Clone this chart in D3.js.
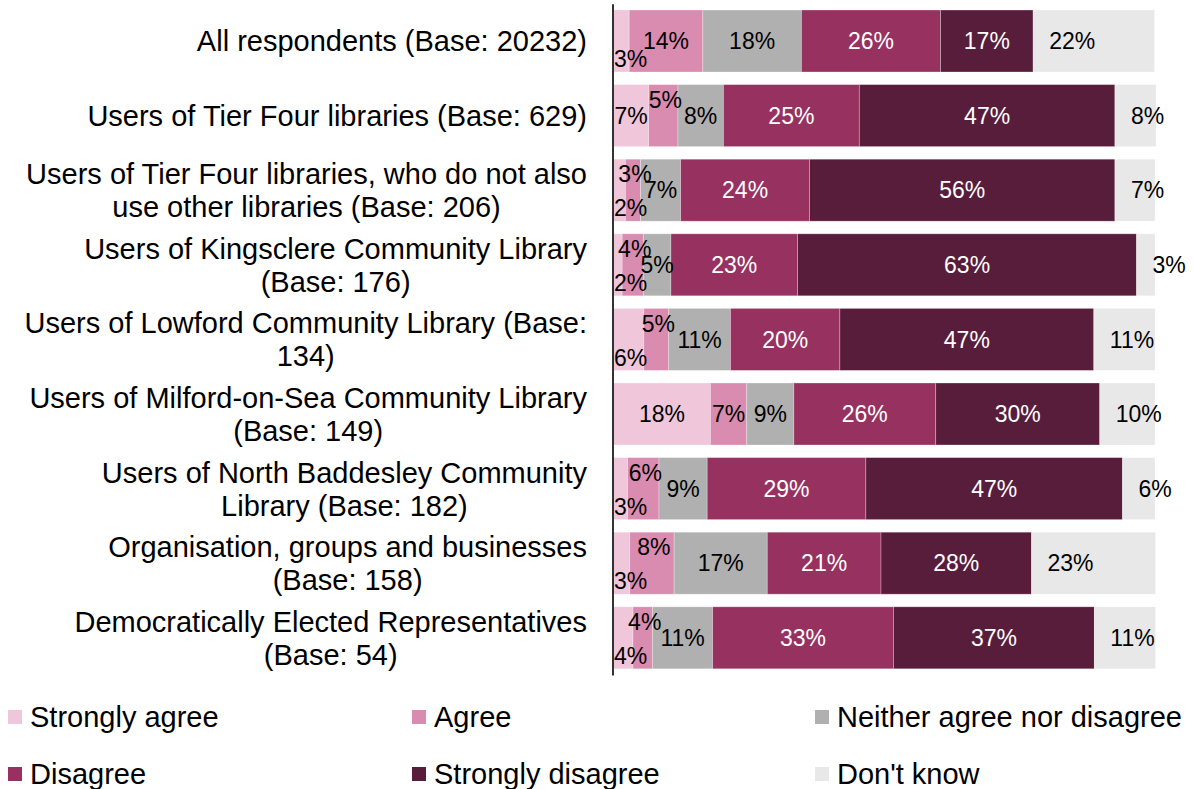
<!DOCTYPE html>
<html>
<head>
<meta charset="utf-8">
<script src="https://cdn.jsdelivr.net/npm/d3@7"></script>
<style>
  html, body { margin: 0; padding: 0; background: #fff; }
  svg { display: block; font-family: "Liberation Sans", Arial, sans-serif; }
</style>
</head>
<body>
<svg id="chart" width="1193" height="789"></svg>
<script>
// ---- data ----
const categories = [
  "All respondents (Base: 20232)",
  "Users of Tier Four libraries (Base: 629)",
  "Users of Tier Four libraries, who do not also use other libraries (Base: 206)",
  "Users of Kingsclere Community Library (Base: 176)",
  "Users of Lowford Community Library (Base: 134)",
  "Users of Milford-on-Sea Community Library (Base: 149)",
  "Users of North Baddesley Community Library (Base: 182)",
  "Organisation, groups and businesses (Base: 158)",
  "Democratically Elected Representatives (Base: 54)"
];
const categoryLines = [
  ["All respondents (Base: 20232)"],
  ["Users of Tier Four libraries (Base: 629)"],
  ["Users of Tier Four libraries, who do not also", "use other libraries (Base: 206)"],
  ["Users of Kingsclere Community Library", "(Base: 176)"],
  ["Users of Lowford Community Library (Base:", "134)"],
  ["Users of Milford-on-Sea Community Library", "(Base: 149)"],
  ["Users of North Baddesley Community", "Library (Base: 182)"],
  ["Organisation, groups and businesses", "(Base: 158)"],
  ["Democratically Elected Representatives", "(Base: 54)"]
];
const seriesNames = ["Strongly agree", "Agree", "Neither agree nor disagree", "Disagree", "Strongly disagree", "Don't know"];
const stronglyAgree = [2.9, 6.5, 2.2, 1.6, 5.6, 17.9, 2.6, 3.0, 3.6];
const agree         = [13.6, 5.4, 2.8, 3.9, 4.6, 6.7, 5.8, 8.2, 3.6];
const neither       = [18.2, 8.4, 7.4, 5.1, 11.4, 8.7, 8.9, 17.2, 11.1];
const disagree      = [25.7, 25.1, 23.8, 23.4, 20.2, 26.2, 29.3, 21.0, 33.4];
const stronglyDis   = [17.1, 47.2, 56.4, 62.6, 46.9, 30.3, 47.4, 27.8, 37.1];
const dontKnow      = [22.4, 7.6, 7.4, 3.4, 11.3, 10.2, 6.0, 22.9, 11.3];
const seriesColors = ["#efc6da", "#d98bb0", "#b0b0b0", "#973260", "#591d3c", "#e8e8e8"];
const labelColors  = ["#000", "#000", "#000", "#fff", "#fff", "#000"];

const seriesValues = [stronglyAgree, agree, neither, disagree, stronglyDis, dontKnow];

// ---- layout ----
const svg = d3.select("#chart");
const x = d3.scaleLinear().domain([0, 100]).range([613.5, 1155]);
const y = d3.scaleBand().domain(categories).range([3.7, 675.1]).paddingInner(0.169).paddingOuter(0.0845);

const rows = categories.map((c, i) => {
  let acc = 0;
  return seriesValues.map((vals, s) => {
    const v = vals[i];
    const seg = { cat: c, s, v, x0: acc, x1: acc + v, row: i };
    acc += v;
    return seg;
  });
});

// bars
const g = svg.append("g");
rows.forEach(row => {
  g.selectAll(null).data(row).enter().append("rect")
    .attr("x", d => x(d.x0))
    .attr("y", d => y(d.cat))
    .attr("width", d => x(d.x1) - x(d.x0))
    .attr("height", y.bandwidth())
    .attr("fill", d => seriesColors[d.s])
    .attr("stroke", "#ffffff")
    .attr("stroke-opacity", 0.35)
    .attr("stroke-width", 0.8);
});

// data labels
const lblFont = 23;
const measure = svg.append("text").attr("font-size", lblFont).attr("visibility", "hidden");
function tw(t) { measure.text(t); return measure.node().getComputedTextLength(); }

rows.forEach(row => {
  const cy = y(row[0].cat) + y.bandwidth() / 2;
  let saExtent = null;
  row.forEach(d => {
    const txt = Math.round(d.v) + "%";
    const w = tw(txt);
    const segW = x(d.x1) - x(d.x0);
    let px = (x(d.x0) + x(d.x1)) / 2, py = cy, anchor = "middle";
    if (d.s === 0) {
      if (w > segW) {
        py = cy + 18;
        px = Math.max(px, x(0) + w / 2 + 0.5);
      }
      saExtent = [px - w / 2, px + w / 2, py !== cy];
    } else if (d.s === 1) {
      const overlap = saExtent && saExtent[2] && (px - w / 2) < saExtent[1] - 5;
      if (w > segW || overlap) {
        py = cy - 16;
        px = px + 2;
      }
    } else if (d.s === 5) {
      px = x(d.x0) + 16;
      anchor = "start";
    }
    svg.append("text")
      .attr("x", px).attr("y", py).attr("dy", "0.36em")
      .attr("text-anchor", anchor)
      .attr("font-size", lblFont)
      .attr("fill", labelColors[d.s])
      .text(txt);
  });
});
measure.remove();

// axis line
const axis = d3.axisLeft(y).tickSize(0).tickFormat("");
svg.append("g").attr("transform", "translate(612.5,0)").call(axis)
  .call(s => s.select(".domain").attr("stroke", "#000").attr("stroke-width", 1.6));

// category labels
const catFont = 29;
const lineH = 33;
categories.forEach((c, i) => {
  const lines = categoryLines[i];
  const cy = y(c) + y.bandwidth() / 2;
  const t = svg.append("text").attr("font-size", catFont).attr("fill", "#000");
  const widths = lines.map(l => { t.text(l); return t.node().getComputedTextLength(); });
  t.remove();
  const maxW = d3.max(widths);
  const right = 587;
  const center = right - maxW / 2;
  lines.forEach((l, k) => {
    svg.append("text")
      .attr("x", center)
      .attr("y", cy + (k - (lines.length - 1) / 2) * lineH)
      .attr("dy", "0.36em")
      .attr("text-anchor", "middle")
      .attr("font-size", catFont)
      .attr("fill", "#000")
      .text(l);
  });
});

// legend
const legCols = [8, 412, 815];
const legRows = [717, 774];
seriesNames.forEach((n, i) => {
  const lx = legCols[i % 3];
  const ly = legRows[Math.floor(i / 3)];
  svg.append("rect").attr("x", lx).attr("y", ly - 7).attr("width", 14).attr("height", 14)
    .attr("fill", seriesColors[i]);
  svg.append("text").attr("x", lx + 22).attr("y", ly).attr("dy", "0.36em")
    .attr("font-size", catFont).attr("fill", "#000").text(n);
});
</script>
</body>
</html>
